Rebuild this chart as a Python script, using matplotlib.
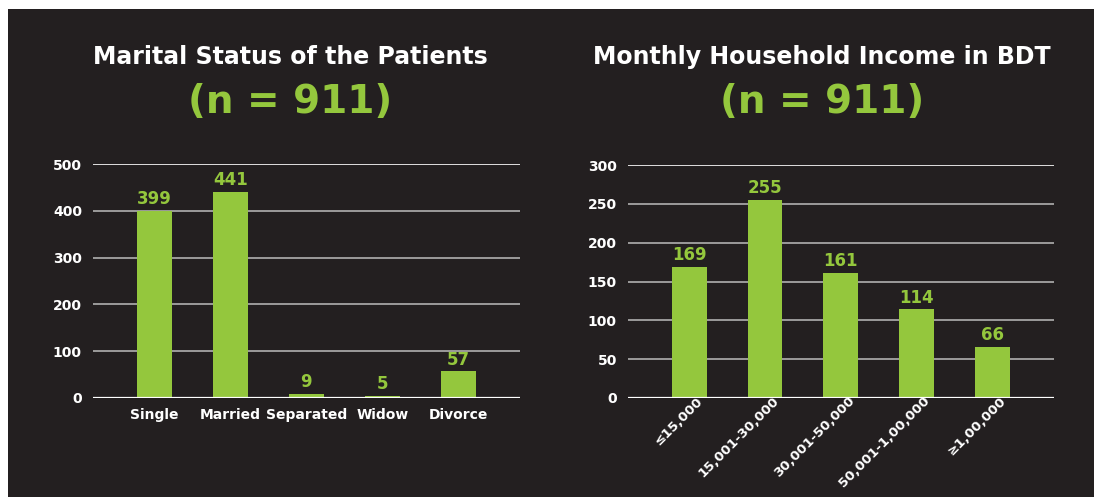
import matplotlib
matplotlib.use('Agg')
import matplotlib.pyplot as plt
from matplotlib.transforms import ScaledTranslation

# data
marital_labels = ['Single', 'Married', 'Separated', 'Widow', 'Divorce']
marital_counts = [399, 441, 9, 5, 57]
income_labels = ['≤15,000', '15,001-30,000', '30,001-50,000', '50,001-1,00,000', '≥1,00,000']
income_counts = [169, 255, 161, 114, 66]

bg = '#231f20'
green = '#94c73d'
plt.rcParams['font.family'] = ['DejaVu Sans']
plt.rcParams['font.weight'] = 'bold'

fig = plt.figure(figsize=(10.94, 4.97), dpi=100)
fig.patch.set_facecolor('white')
fig.patches.append(plt.Rectangle((8 / 1094, 0), 1, 1 - 9 / 497, transform=fig.transFigure,
                                 facecolor=bg, edgecolor='none', zorder=-10))


def draw(ax, labels, counts, ymax, step, rotate):
    ax.patch.set_alpha(0)
    x = range(len(labels))
    ax.bar(x, counts, width=0.46, color=green, zorder=3)
    for t in range(step, ymax + 1, step):
        ax.axhline(t, color='#b0b0b0' if t < ymax else 'white', lw=1.2, zorder=1)
    ax.axhline(0, color='white', lw=1.6, zorder=4)
    for i, v in zip(x, counts):
        ax.text(i, v + ymax * 0.012, str(v), ha='center', va='bottom', color=green,
                fontsize=12, fontweight='bold')
    ax.set_xlim(-0.81, 4.81)
    ax.set_ylim(0, ymax)
    ax.set_yticks(range(0, ymax + 1, step))
    ax.set_xticks(list(x))
    ax.tick_params(length=0, colors='white', labelsize=10, pad=8)
    if rotate:
        ax.set_xticklabels(labels, rotation=45, ha='right', rotation_mode='anchor', fontsize=9.5)
        ax.tick_params(axis='x', pad=0)
        off = ScaledTranslation(7 / 100, 4 / 100, fig.dpi_scale_trans)
        for lab in ax.get_xticklabels():
            lab.set_transform(lab.get_transform() + off)
    else:
        ax.set_xticklabels(labels)
        ax.tick_params(axis='x', pad=7)
    for lab in ax.get_xticklabels() + ax.get_yticklabels():
        lab.set_fontweight('bold')
    for s in ax.spines.values():
        s.set_visible(False)


ax1 = fig.add_axes([0.085, 0.1992, 0.390, 0.4708])
draw(ax1, marital_labels, marital_counts, 500, 100, False)
ax2 = fig.add_axes([0.574, 0.1992, 0.389, 0.4688])
draw(ax2, income_labels, income_counts, 300, 50, True)

fig.text(290 / 1094, 1 - 57 / 497, 'Marital Status of the Patients', ha='center', va='center',
         color='white', fontsize=17, fontweight='bold')
fig.text(290 / 1094, 1 - 102 / 497, '(n = 911)', ha='center', va='center',
         color=green, fontsize=28, fontweight='bold')
fig.text(822 / 1094, 1 - 57 / 497, 'Monthly Household Income in BDT', ha='center', va='center',
         color='white', fontsize=17, fontweight='bold')
fig.text(822 / 1094, 1 - 102 / 497, '(n = 911)', ha='center', va='center',
         color=green, fontsize=28, fontweight='bold')

fig.savefig('out.png', dpi=100, facecolor=fig.get_facecolor())
